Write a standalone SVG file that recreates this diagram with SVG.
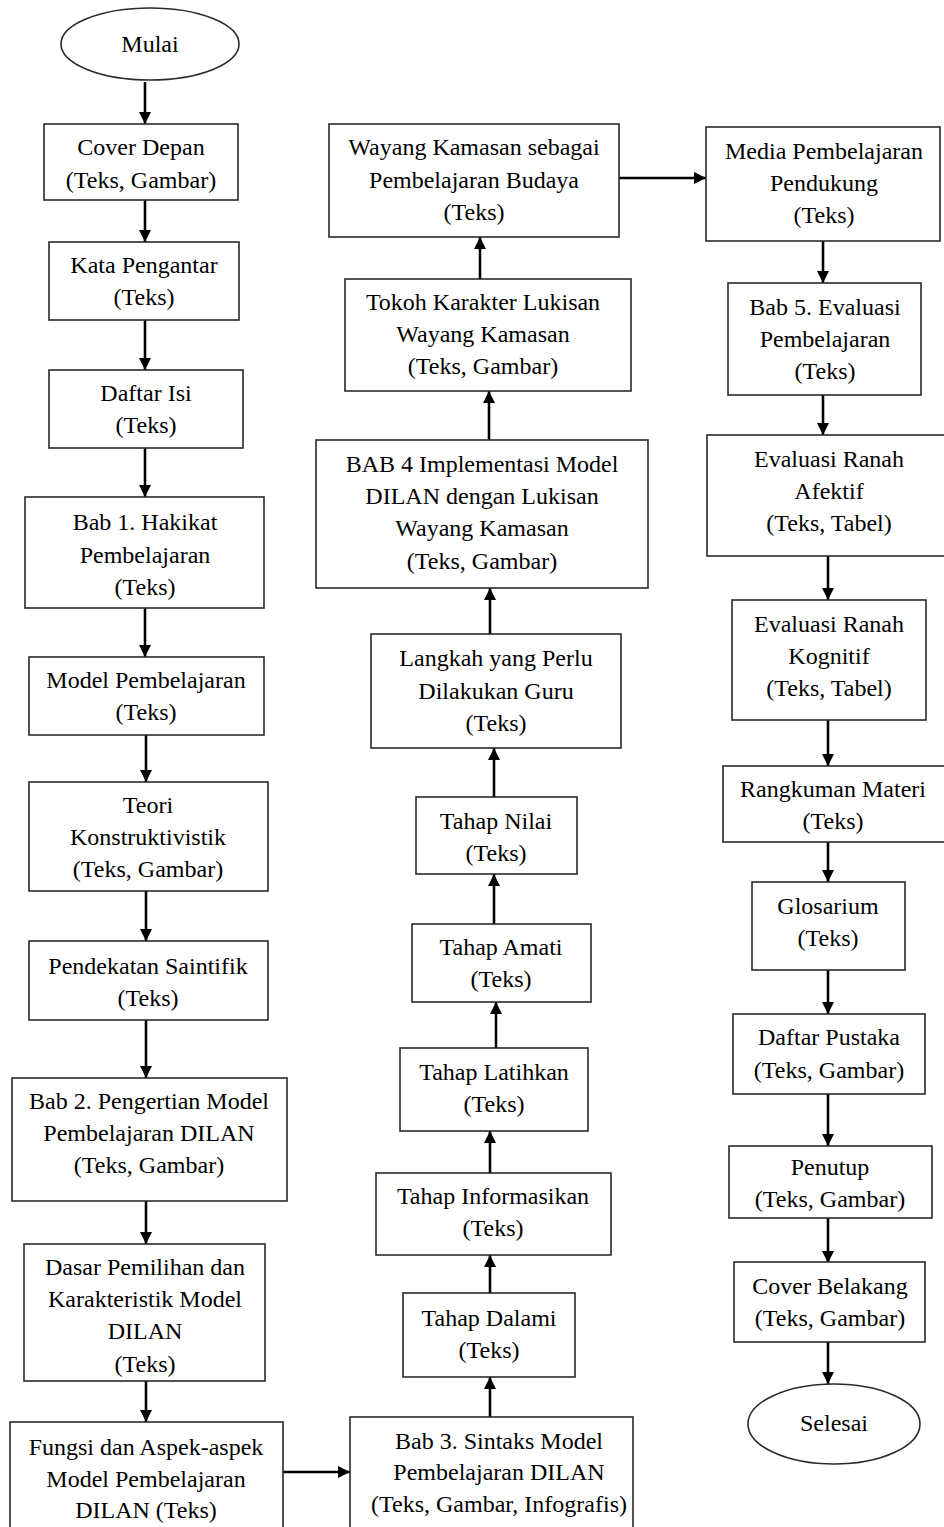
<svg xmlns="http://www.w3.org/2000/svg" width="944" height="1527" viewBox="0 0 944 1527">
<style>
.b{fill:#fff;stroke:#2a2a2a;stroke-width:1.6}
.t{font-family:'Liberation Serif','Times New Roman',serif;font-size:24px;fill:#000;text-anchor:middle}
.c{stroke:#000;stroke-width:2.6;fill:none;marker-end:url(#ah)}
</style>
<defs>
<marker id="ah" markerUnits="userSpaceOnUse" markerWidth="12" markerHeight="14" refX="12" refY="6" orient="auto">
<path d="M0,0 L12,6 L0,12 Z" fill="#000"/>
</marker>
</defs>
<rect width="944" height="1527" fill="#fff"/>
<g id="connectors">
<line class="c" x1="145" y1="82" x2="145" y2="124"/>
<line class="c" x1="145" y1="200" x2="145" y2="242"/>
<line class="c" x1="145" y1="320" x2="145" y2="370"/>
<line class="c" x1="145" y1="448" x2="145" y2="497"/>
<line class="c" x1="145" y1="608" x2="145" y2="657"/>
<line class="c" x1="146" y1="735" x2="146" y2="782"/>
<line class="c" x1="146" y1="891" x2="146" y2="941"/>
<line class="c" x1="146" y1="1020" x2="146" y2="1078"/>
<line class="c" x1="146" y1="1201" x2="146" y2="1244"/>
<line class="c" x1="146" y1="1381" x2="146" y2="1422"/>
<line class="c" x1="283" y1="1472" x2="350" y2="1472"/>
<line class="c" x1="490" y1="1417" x2="490" y2="1377"/>
<line class="c" x1="490" y1="1293" x2="490" y2="1255"/>
<line class="c" x1="490" y1="1173" x2="490" y2="1131"/>
<line class="c" x1="496" y1="1048" x2="496" y2="1002"/>
<line class="c" x1="494" y1="924" x2="494" y2="874"/>
<line class="c" x1="494" y1="797" x2="494" y2="748"/>
<line class="c" x1="490" y1="634" x2="490" y2="588"/>
<line class="c" x1="489" y1="440" x2="489" y2="391"/>
<line class="c" x1="480" y1="279" x2="480" y2="237"/>
<line class="c" x1="619" y1="178" x2="706" y2="178"/>
<line class="c" x1="823" y1="241" x2="823" y2="283"/>
<line class="c" x1="823" y1="395" x2="823" y2="435"/>
<line class="c" x1="828" y1="556" x2="828" y2="600"/>
<line class="c" x1="828" y1="720" x2="828" y2="766"/>
<line class="c" x1="828" y1="842" x2="828" y2="882"/>
<line class="c" x1="828" y1="970" x2="828" y2="1014"/>
<line class="c" x1="828" y1="1094" x2="828" y2="1146"/>
<line class="c" x1="828" y1="1218" x2="828" y2="1263"/>
<line class="c" x1="828" y1="1342" x2="828" y2="1384"/>
</g>
<g font-family="Liberation Serif, serif">
<g id="mulai"><ellipse class="b" cx="150" cy="44" rx="89" ry="36"/><text class="t" x="150" y="52">Mulai</text></g>
<g id="cover-depan"><rect class="b" x="44" y="124" width="194" height="76"/><text class="t" x="141" y="155">Cover Depan</text><text class="t" x="141" y="188">(Teks, Gambar)</text></g>
<g id="kata-pengantar"><rect class="b" x="49" y="242" width="190" height="78"/><text class="t" x="144" y="273">Kata Pengantar</text><text class="t" x="144" y="305">(Teks)</text></g>
<g id="daftar-isi"><rect class="b" x="49" y="370" width="194" height="78"/><text class="t" x="146" y="401">Daftar Isi</text><text class="t" x="146" y="433">(Teks)</text></g>
<g id="bab1"><rect class="b" x="25" y="497" width="239" height="111"/><text class="t" x="145" y="530">Bab 1. Hakikat</text><text class="t" x="145" y="563">Pembelajaran</text><text class="t" x="145" y="595">(Teks)</text></g>
<g id="model"><rect class="b" x="29" y="657" width="235" height="78"/><text class="t" x="146" y="688">Model Pembelajaran</text><text class="t" x="146" y="720">(Teks)</text></g>
<g id="teori"><rect class="b" x="29" y="782" width="239" height="109"/><text class="t" x="148" y="813">Teori</text><text class="t" x="148" y="845">Konstruktivistik</text><text class="t" x="148" y="877">(Teks, Gambar)</text></g>
<g id="pendekatan"><rect class="b" x="29" y="941" width="239" height="79"/><text class="t" x="148" y="974">Pendekatan Saintifik</text><text class="t" x="148" y="1006">(Teks)</text></g>
<g id="bab2"><rect class="b" x="12" y="1078" width="275" height="123"/><text class="t" x="149" y="1109">Bab 2. Pengertian Model</text><text class="t" x="149" y="1141">Pembelajaran DILAN</text><text class="t" x="149" y="1173">(Teks, Gambar)</text></g>
<g id="dasar"><rect class="b" x="24" y="1244" width="241" height="137"/><text class="t" x="145" y="1275">Dasar Pemilihan dan</text><text class="t" x="145" y="1307">Karakteristik Model</text><text class="t" x="145" y="1339">DILAN</text><text class="t" x="145" y="1372">(Teks)</text></g>
<g id="fungsi"><rect class="b" x="10" y="1422" width="273" height="110"/><text class="t" x="146" y="1455">Fungsi dan Aspek-aspek</text><text class="t" x="146" y="1487">Model Pembelajaran</text><text class="t" x="146" y="1518">DILAN (Teks)</text></g>
<g id="bab3"><rect class="b" x="350" y="1417" width="283" height="115"/><text class="t" x="499" y="1449">Bab 3. Sintaks Model</text><text class="t" x="499" y="1480">Pembelajaran DILAN</text><text class="t" x="499" y="1512">(Teks, Gambar, Infografis)</text></g>
<g id="dalami"><rect class="b" x="403" y="1293" width="172" height="84"/><text class="t" x="489" y="1326">Tahap Dalami</text><text class="t" x="489" y="1358">(Teks)</text></g>
<g id="informasikan"><rect class="b" x="376" y="1173" width="235" height="82"/><text class="t" x="493" y="1204">Tahap Informasikan</text><text class="t" x="493" y="1236">(Teks)</text></g>
<g id="latihkan"><rect class="b" x="400" y="1048" width="188" height="83"/><text class="t" x="494" y="1080">Tahap Latihkan</text><text class="t" x="494" y="1112">(Teks)</text></g>
<g id="amati"><rect class="b" x="412" y="924" width="179" height="78"/><text class="t" x="501" y="955">Tahap Amati</text><text class="t" x="501" y="987">(Teks)</text></g>
<g id="nilai"><rect class="b" x="416" y="797" width="161" height="77"/><text class="t" x="496" y="829">Tahap Nilai</text><text class="t" x="496" y="861">(Teks)</text></g>
<g id="langkah"><rect class="b" x="371" y="634" width="250" height="114"/><text class="t" x="496" y="666">Langkah yang Perlu</text><text class="t" x="496" y="699">Dilakukan Guru</text><text class="t" x="496" y="731">(Teks)</text></g>
<g id="bab4"><rect class="b" x="316" y="440" width="332" height="148"/><text class="t" x="482" y="472">BAB 4 Implementasi Model</text><text class="t" x="482" y="504">DILAN dengan Lukisan</text><text class="t" x="482" y="536">Wayang Kamasan</text><text class="t" x="482" y="569">(Teks, Gambar)</text></g>
<g id="tokoh"><rect class="b" x="345" y="279" width="286" height="112"/><text class="t" x="483" y="310">Tokoh Karakter Lukisan</text><text class="t" x="483" y="342">Wayang Kamasan</text><text class="t" x="483" y="374">(Teks, Gambar)</text></g>
<g id="wayang"><rect class="b" x="329" y="124" width="290" height="113"/><text class="t" x="474" y="155">Wayang Kamasan sebagai</text><text class="t" x="474" y="188">Pembelajaran Budaya</text><text class="t" x="474" y="220">(Teks)</text></g>
<g id="media"><rect class="b" x="706" y="127" width="234" height="114"/><text class="t" x="824" y="159">Media Pembelajaran</text><text class="t" x="824" y="191">Pendukung</text><text class="t" x="824" y="223">(Teks)</text></g>
<g id="bab5"><rect class="b" x="728" y="283" width="193" height="112"/><text class="t" x="825" y="315">Bab 5. Evaluasi</text><text class="t" x="825" y="347">Pembelajaran</text><text class="t" x="825" y="379">(Teks)</text></g>
<g id="afektif"><rect class="b" x="707" y="435" width="240" height="121"/><text class="t" x="829" y="467">Evaluasi Ranah</text><text class="t" x="829" y="499">Afektif</text><text class="t" x="829" y="531">(Teks, Tabel)</text></g>
<g id="kognitif"><rect class="b" x="732" y="600" width="194" height="120"/><text class="t" x="829" y="632">Evaluasi Ranah</text><text class="t" x="829" y="664">Kognitif</text><text class="t" x="829" y="696">(Teks, Tabel)</text></g>
<g id="rangkuman"><rect class="b" x="723" y="766" width="224" height="76"/><text class="t" x="833" y="797">Rangkuman Materi</text><text class="t" x="833" y="829">(Teks)</text></g>
<g id="glosarium"><rect class="b" x="752" y="882" width="153" height="88"/><text class="t" x="828" y="914">Glosarium</text><text class="t" x="828" y="946">(Teks)</text></g>
<g id="pustaka"><rect class="b" x="733" y="1014" width="192" height="80"/><text class="t" x="829" y="1045">Daftar Pustaka</text><text class="t" x="829" y="1078">(Teks, Gambar)</text></g>
<g id="penutup"><rect class="b" x="729" y="1146" width="203" height="72"/><text class="t" x="830" y="1175">Penutup</text><text class="t" x="830" y="1207">(Teks, Gambar)</text></g>
<g id="cover-belakang"><rect class="b" x="734" y="1262" width="191" height="80"/><text class="t" x="830" y="1294">Cover Belakang</text><text class="t" x="830" y="1326">(Teks, Gambar)</text></g>
<g id="selesai"><ellipse class="b" cx="834" cy="1424" rx="86" ry="40"/><text class="t" x="834" y="1431">Selesai</text></g>
</g>
</svg>
